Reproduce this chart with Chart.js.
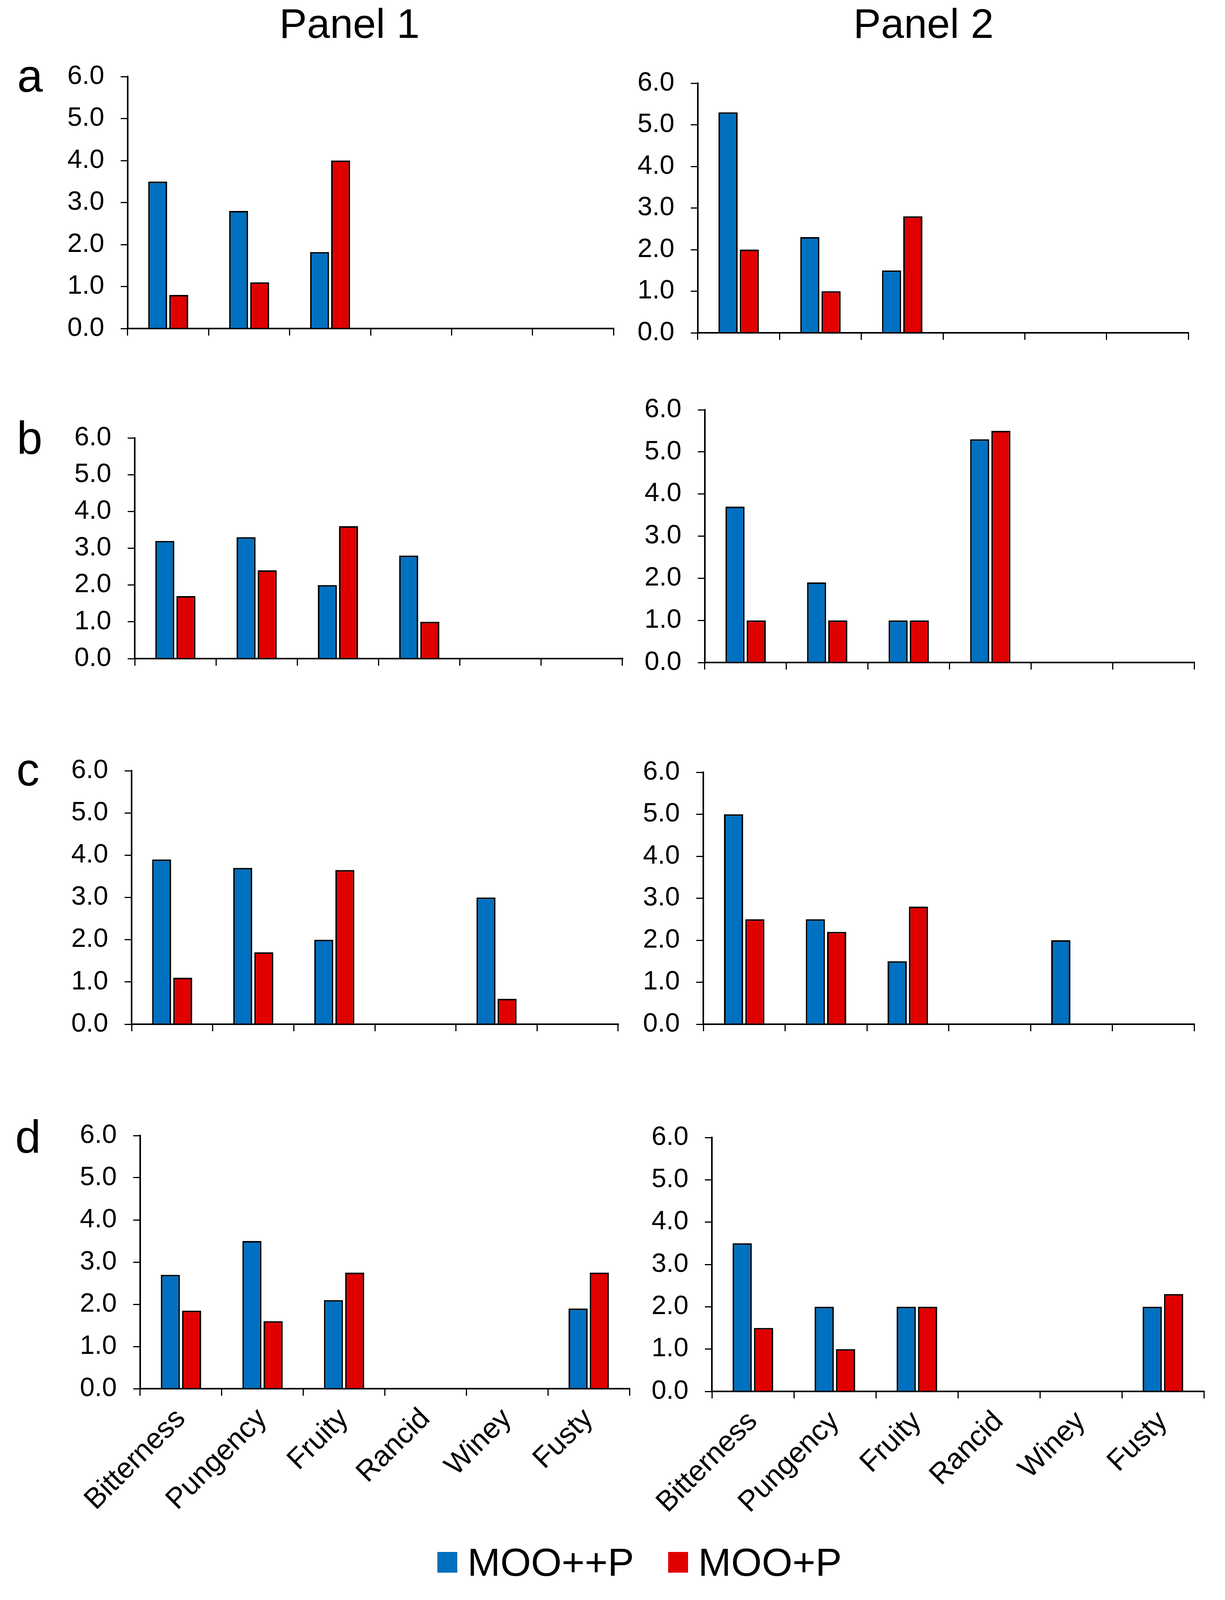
<!DOCTYPE html>
<html>
<head>
<meta charset="utf-8">
<script src="https://cdn.jsdelivr.net/npm/chart.js@4.4.1/dist/chart.umd.min.js"></script>
<style>
  body { margin: 0; background: #fff; font-family: "Liberation Sans", Arial, sans-serif; color: #000; overflow: hidden; }
  #page { position: relative; width: 3137px; overflow: hidden; background: #fff; }
  canvas { position: absolute; }
  .title { position: absolute; width: 800px; text-align: center; font-size: 106px; line-height: 106px; }
  .letter { position: absolute; font-size: 118px; line-height: 118px; }
  .item { position: absolute; display: flex; align-items: center; font-size: 101px; line-height: 101px; }
  .swatch { display: inline-block; width: 51px; height: 53px; margin-right: 26px; }
</style>
</head>
<body>
<div id="page"></div>
<script>
// sensory attributes on the x axis
const categories = ["Bitterness", "Pungency", "Fruity", "Rancid", "Winey", "Fusty"];
const seriesNames = ["MOO++P", "MOO+P"];
const panelTitles = ["Panel 1", "Panel 2"];
const rowLetters = ["a", "b", "c", "d"];
const yTickValues = [0, 1, 2, 3, 4, 5, 6];

// row a
const a1Blue = [3.5, 2.8, 1.82, 0, 0, 0];
const a1Red  = [0.8, 1.1, 4.0, 0, 0, 0];
const a2Blue = [5.3, 2.3, 1.5, 0, 0, 0];
const a2Red  = [2.0, 1.0, 2.8, 0, 0, 0];
// row b
const b1Blue = [3.2, 3.3, 2.0, 2.8, 0, 0];
const b1Red  = [1.7, 2.4, 3.6, 1.0, 0, 0];
const b2Blue = [3.7, 1.9, 1.0, 5.3, 0, 0];
const b2Red  = [1.0, 1.0, 1.0, 5.5, 0, 0];
// row c
const c1Blue = [3.9, 3.7, 2.0, 0, 3.0, 0];
const c1Red  = [1.1, 1.7, 3.65, 0, 0.6, 0];
const c2Blue = [5.0, 2.5, 1.5, 0, 2.0, 0];
const c2Red  = [2.5, 2.2, 2.8, 0, 0, 0];
// row d
const d1Blue = [2.7, 3.5, 2.1, 0, 0, 1.9];
const d1Red  = [1.85, 1.6, 2.75, 0, 0, 2.75];
const d2Blue = [3.5, 2.0, 2.0, 0, 0, 2.0];
const d2Red  = [1.5, 1.0, 2.0, 0, 0, 2.3];

const colors = ["#0070C0", "#E00000"];

// layout is measured on a 3137 x 4488 sheet; squeeze it vertically if the window is shorter
const sheetH = 4488;
const sy = Math.min(1, window.innerHeight / sheetH);
const Y = (v) => Math.round(v * sy);

const page = document.getElementById("page");
page.style.height = Y(sheetH) + "px";

function addText(cls, text, left, top) {
  const el = document.createElement("div");
  el.className = cls;
  el.innerText = text;
  el.style.left = left + "px";
  el.style.top = top + "px";
  page.appendChild(el);
  return el;
}

// titles and row letters (top = baseline - ascent)
addText("title", panelTitles[0], 495, Y(106) - 90);
addText("title", panelTitles[1], 1965, Y(106) - 90);
const letterPos = [[44, 258], [43, 1273], [42, 2203], [39, 3233]];
rowLetters.forEach((l, i) => addText("letter", l, letterPos[i][0], Y(letterPos[i][1]) - 100));

// legend
[1120, 1711].forEach((x, i) => {
  const item = document.createElement("div");
  item.className = "item";
  item.style.left = x + "px";
  item.style.top = (Y(4421) - 86) + "px";
  const sw = document.createElement("span");
  sw.className = "swatch";
  sw.style.background = colors[i];
  const tx = document.createElement("span");
  tx.innerText = seriesNames[i];
  item.appendChild(sw);
  item.appendChild(tx);
  page.appendChild(item);
});

// plot boxes: column left edge, y axis x, right end, top (6.0), zero line
const boxes = [
  { col: 0,    axisX: 327,  right: 1571, top: 215,  zero: 921,  blue: a1Blue, red: a1Red, labels: false },
  { col: 1560, axisX: 1787, right: 3043, top: 233,  zero: 933,  blue: a2Blue, red: a2Red, labels: false },
  { col: 0,    axisX: 345,  right: 1594, top: 1228, zero: 1847, blue: b1Blue, red: b1Red, labels: false },
  { col: 1560, axisX: 1805, right: 3058, top: 1149, zero: 1858, blue: b2Blue, red: b2Red, labels: false },
  { col: 0,    axisX: 337,  right: 1583, top: 2162, zero: 2873, blue: c1Blue, red: c1Red, labels: false },
  { col: 1560, axisX: 1801, right: 3058, top: 2166, zero: 2873, blue: c2Blue, red: c2Red, labels: false },
  { col: 0,    axisX: 359,  right: 1612, top: 3185, zero: 3895, blue: d1Blue, red: d1Red, labels: true },
  { col: 1560, axisX: 1823, right: 3083, top: 3191, zero: 3903, blue: d2Blue, red: d2Red, labels: true }
];

Chart.defaults.font.family = "'Liberation Sans', Arial, sans-serif";
Chart.defaults.color = "#000";

const padTop = 100;
const padRight = 40;

function makeChart(box) {
  const xHeight = box.labels ? 330 : 100;
  const canvas = document.createElement("canvas");
  const w = box.right + padRight - box.col;
  const h = padTop + (Y(box.zero) - Y(box.top)) + xHeight;
  canvas.width = w;
  canvas.height = h;
  canvas.style.left = box.col + "px";
  canvas.style.top = (Y(box.top) - padTop) + "px";
  canvas.style.width = w + "px";
  canvas.style.height = h + "px";
  page.appendChild(canvas);

  new Chart(canvas.getContext("2d"), {
    type: "bar",
    data: {
      labels: categories,
      datasets: [
        { label: seriesNames[0], data: box.blue, backgroundColor: colors[0] },
        { label: seriesNames[1], data: box.red, backgroundColor: colors[1] }
      ]
    },
    options: {
      responsive: false,
      animation: false,
      devicePixelRatio: 1,
      layout: { padding: { top: padTop, right: padRight, left: 0, bottom: 0 } },
      plugins: { legend: { display: false }, tooltip: { enabled: false } },
      datasets: {
        bar: {
          categoryPercentage: 0.52,
          barPercentage: 0.9,
          borderColor: "#000",
          borderWidth: 4,
          borderSkipped: "start"
        }
      },
      scales: {
        x: {
          grid: { drawOnChartArea: false, drawTicks: true, tickLength: 18, lineWidth: 3, color: "#000", offset: true },
          border: { display: true, color: "#000", width: 4 },
          ticks: { display: box.labels, minRotation: 45, maxRotation: 45, padding: 16, font: { size: 74 } },
          afterFit: (s) => { s.height = xHeight; }
        },
        y: {
          min: yTickValues[0],
          max: yTickValues[yTickValues.length - 1],
          ticks: { stepSize: 1, padding: 42, font: { size: 68 }, callback: (v) => v.toFixed(1) },
          grid: { drawOnChartArea: false, tickLength: 18, lineWidth: 3, color: "#000" },
          border: { display: true, color: "#000", width: 4 },
          afterFit: (s) => { s.width = box.axisX - box.col; }
        }
      }
    }
  });
}

boxes.forEach(makeChart);
</script>
</body>
</html>
